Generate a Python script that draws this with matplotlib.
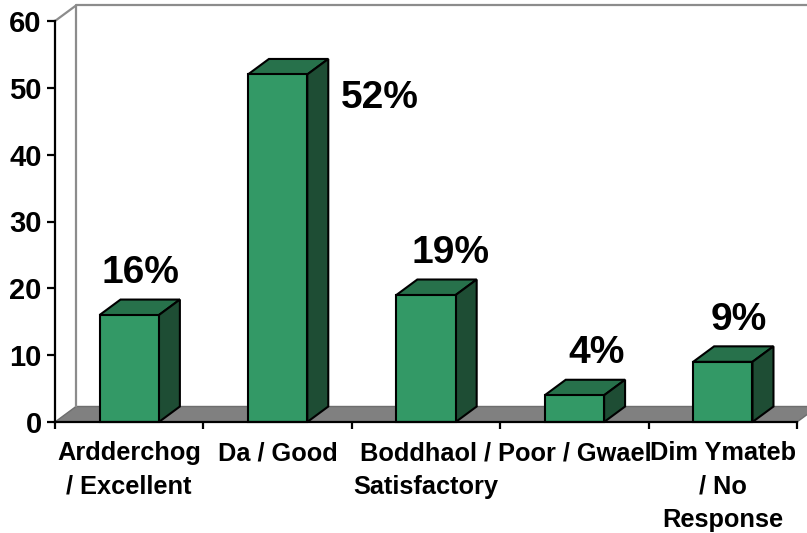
#!/usr/bin/env python3
"""Recreate the 3D-style survey bar chart (Welsh / English categories)."""

import matplotlib
matplotlib.use("Agg")
import matplotlib.pyplot as plt
from matplotlib.patches import Polygon, Rectangle

# --- data -------------------------------------------------------------
categories = [
    "Ardderchog\n/ Excellent",
    "Da / Good",
    "Boddhaol /\nSatisfactory",
    "Poor / Gwael",
    "Dim Ymateb\n/ No\nResponse",
]
values = [16, 52, 19, 4, 9]
pct_labels = ["16%", "52%", "19%", "4%", "9%"]
# label anchor points (category index, value units)
label_x = [0.075, 1.687, 2.165, 3.149, 4.11]
label_y = [22.3, 48.55, 25.3, 10.32, 15.3]
y_ticks = [0, 10, 20, 30, 40, 50, 60]

# --- style ------------------------------------------------------------
FRONT = "#339966"
TOP = "#27714b"
SIDE = "#1e4d34"
FLOOR = "#808080"
WALL = "#8c8c8c"
DX, DY = 0.1415, 2.32      # 3D depth offset in data units
BAR_W = 0.40

plt.rcParams["font.family"] = ["Liberation Sans", "DejaVu Sans"]
plt.rcParams["font.weight"] = "bold"

W, H = 807, 533
fig = plt.figure(figsize=(W / 100, H / 100), dpi=100)
ax = fig.add_axes([55 / W, (H - 422) / H, 742 / W, 401 / H])
ax.set_xlim(-0.5, 4.5)
ax.set_ylim(0, 60)
ax.patch.set_visible(False)

x0, x1 = -0.5, len(values) - 0.5

# floor
ax.add_patch(Polygon([(x0, 0), (x1, 0), (x1 + DX, DY), (x0 + DX, DY)],
                     closed=True, facecolor=FLOOR, edgecolor="#6e6e6e",
                     lw=1.0, clip_on=False, zorder=1))
# back wall outline
ax.plot([x0 + DX, x0 + DX, x1 + DX * 2], [DY, 60 + DY, 60 + DY],
        color=WALL, lw=1.6, clip_on=False, zorder=1)
ax.plot([x0, x0 + DX], [60, 60 + DY], color=WALL, lw=1.6,
        clip_on=False, zorder=1)

# bars
for i, v in enumerate(values):
    left, right = i - BAR_W / 2, i + BAR_W / 2
    ax.add_patch(Polygon([(left, v), (right, v), (right + DX, v + DY),
                          (left + DX, v + DY)], closed=True, facecolor=TOP,
                         edgecolor="black", lw=1.5, clip_on=False, zorder=3))
    ax.add_patch(Polygon([(right, 0), (right + DX, DY), (right + DX, v + DY),
                          (right, v)], closed=True, facecolor=SIDE,
                         edgecolor="black", lw=1.5, clip_on=False, zorder=3))
    ax.add_patch(Rectangle((left, 0), BAR_W, v, facecolor=FRONT,
                           edgecolor="black", lw=1.5, clip_on=False, zorder=4))

for lx, ly, txt in zip(label_x, label_y, pct_labels):
    ax.text(lx, ly, txt, ha="center", va="center", fontsize=28,
            fontweight="bold", zorder=5)

# axes / ticks
for s in ("top", "right"):
    ax.spines[s].set_visible(False)
for s in ("left", "bottom"):
    ax.spines[s].set_linewidth(1.6)
    ax.spines[s].set_zorder(6)

ax.set_yticks(y_ticks)
ax.set_yticklabels([str(t) for t in y_ticks])
ax.tick_params(axis="y", direction="out", length=6, width=1.6, pad=3.5,
               labelsize=21)

ax.set_xticks(range(len(categories)))
ax.set_xticklabels(categories, fontsize=18.3, linespacing=1.5)
ax.set_xticks([i - 0.5 for i in range(len(categories) + 1)], minor=True)
ax.tick_params(axis="x", which="major", length=0, pad=14)
ax.tick_params(axis="x", which="minor", direction="out", length=5, width=1.6)

fig.savefig("out.png", dpi=100)
